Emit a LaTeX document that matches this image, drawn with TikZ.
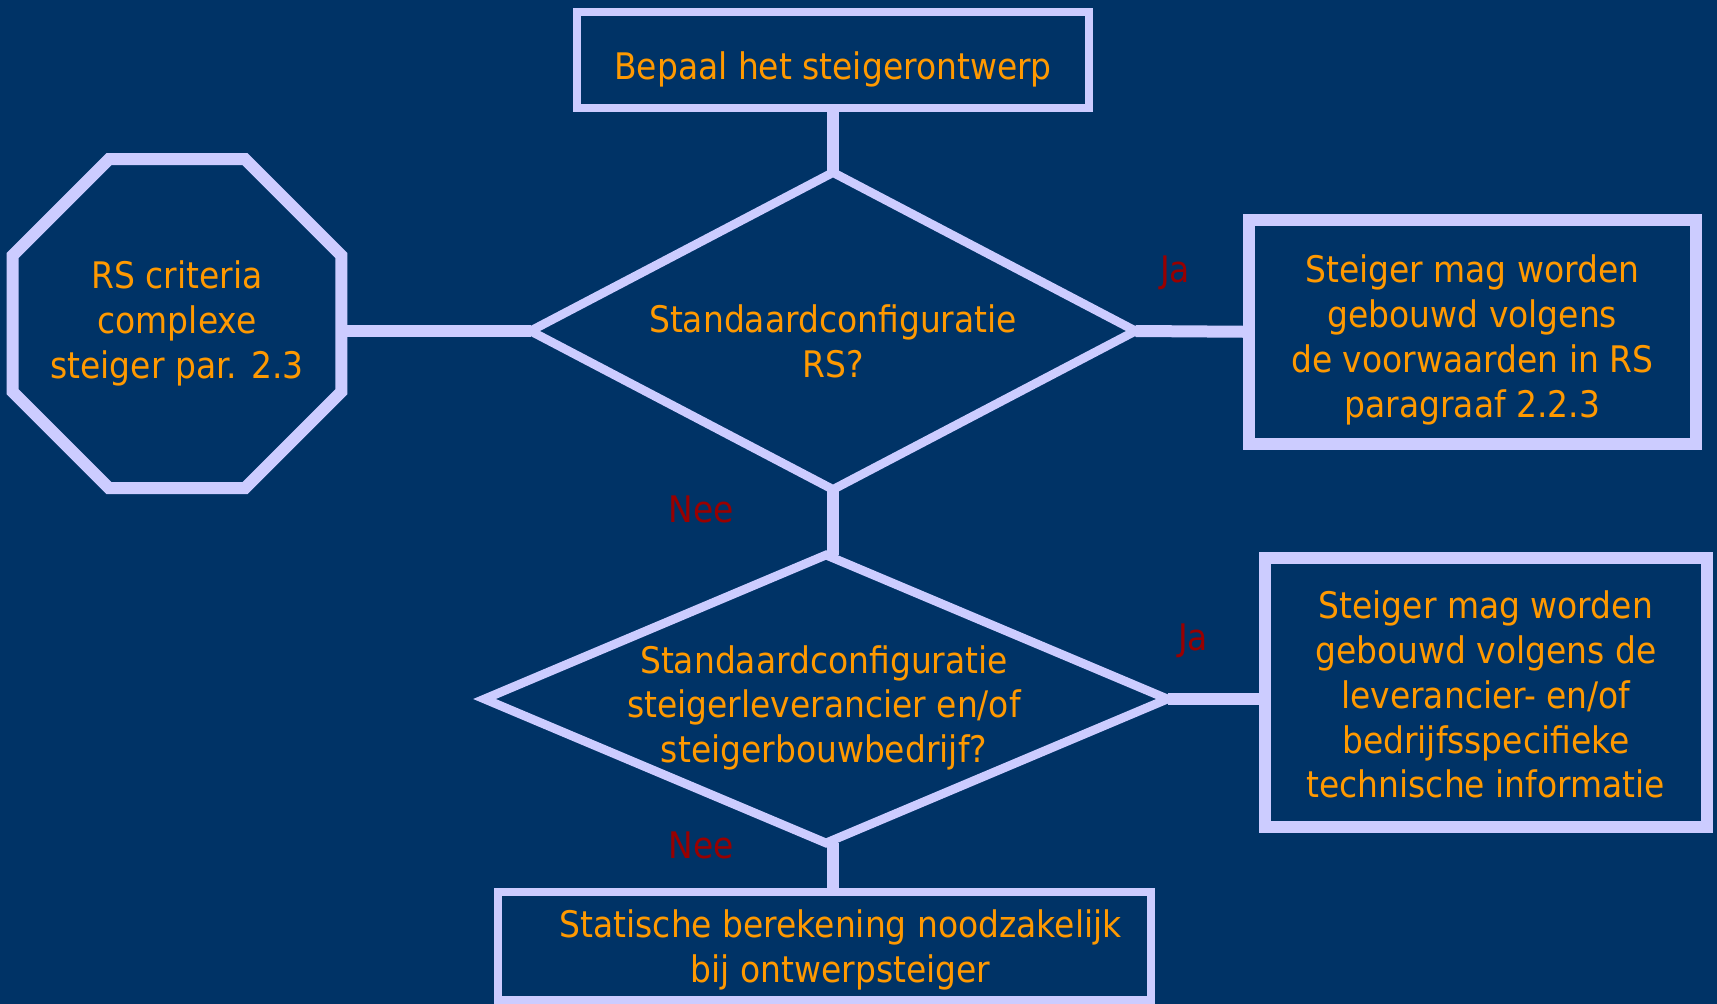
\documentclass[tikz,border=0pt]{standalone}
\usepackage{fontspec}
\setmainfont{DejaVu Sans}[FakeStretch=0.9]
\usetikzlibrary{shapes.geometric}

\begin{document}
\begin{tikzpicture}[x=0.5pt, y=-0.5pt,
    vak/.style={draw=rand, line width=4pt, fill=achter, inner sep=0pt, outer sep=0pt},
    dikvak/.style={vak, line width=6pt},
    keuze/.style={vak, diamond, line width=4.4pt},
    stopvak/.style={dikvak, regular polygon, regular polygon sides=8},
    tekst/.style={text=oranje, align=center, inner sep=0pt, font=\fontsize{18.3}{22.4}\selectfont},
    lijn/.style={draw=rand, line width=6pt},
    antwoord/.style={text=janee, inner sep=0pt, font=\fontsize{18.3}{22.4}\selectfont}]
  % Define colors
  \definecolor{achter}{HTML}{003366}
  \definecolor{rand}{HTML}{CCCCFF}
  \definecolor{oranje}{HTML}{FF9900}
  \definecolor{janee}{HTML}{990000}

  % Background
  \fill[achter] (0,0) rectangle (1717,1004);
  \useasboundingbox (0,0) rectangle (1717,1004);

  % Shapes
  \node[vak, minimum width=256pt, minimum height=48pt] (ontwerp) at (833,60.5) {};
  \node[keuze, minimum width=302.5pt, minimum height=158.5pt] (rs) at (833,331) {};
  \node[stopvak, minimum size=178pt] (complex) at (177,323.6) {};
  \node[dikvak, minimum width=223.3pt, minimum height=112pt] (rsja) at (1472.3,331.8) {};
  \node[keuze, minimum width=341.5pt, minimum height=144pt] (leverancier) at (826,699) {};
  \node[dikvak, minimum width=220.8pt, minimum height=134.5pt] (leverja) at (1485.8,692.6) {};
  \node[vak, minimum width=326.7pt, minimum height=54pt] (bereken) at (824.6,946) {};

  % Texts
  \node[tekst] (ontwerptekst) at ([yshift=-4.5pt]ontwerp.center) {Bepaal het steigerontwerp};
  \node[tekst] (rstekst) at ([yshift=-5.2pt]rs.center) {Standaardconfiguratie\\RS?};
  \node[tekst] (complextekst) at (complex.center) {RS criteria\\complexe\\steiger par. 2.3};
  \node[tekst] (rsjatekst) at ([yshift=-4pt]rsja.center) {Steiger mag worden\\gebouwd volgens\\de voorwaarden in RS\\paragraaf 2.2.3};
  \node[tekst] (levertekst) at ([xshift=-1pt,yshift=-4.4pt]leverancier.center) {Standaardconfiguratie\\steigerleverancier en/of\\steigerbouwbedrijf?};
  \node[tekst] (leverjatekst) at ([yshift=-1pt]leverja.center) {Steiger mag worden\\gebouwd volgens de\\leverancier- en/of\\bedrijfsspecifieke\\technische informatie};
  \node[tekst] (berekentekst) at ([xshift=8pt,yshift=-2pt]bereken.center) {Statische berekening noodzakelijk\\bij ontwerpsteiger};

  % Connectors
  \draw[lijn] (ontwerp.south) -- (rs.north);
  \draw[lijn] (rs.west) -- (rs.west -| complex.east);
  \draw[lijn] (rs.east) -- (rsja.west);
  \draw[lijn] (rs.south) -- (rs.south |- leverancier.north);
  \draw[lijn] (leverancier.east) -- (leverancier.east -| leverja.west);
  \draw[lijn] (leverancier.south -| rs.south) -- (rs.south |- bereken.north);

  % Answers
  \node[antwoord] (ja1) at (1175,273) {Ja};
  \node[antwoord] (nee1) at (701,509) {Nee};
  \node[antwoord] (ja2) at (1193,641) {Ja};
  \node[antwoord] (nee2) at (701,845) {Nee};
\end{tikzpicture}
\end{document}
